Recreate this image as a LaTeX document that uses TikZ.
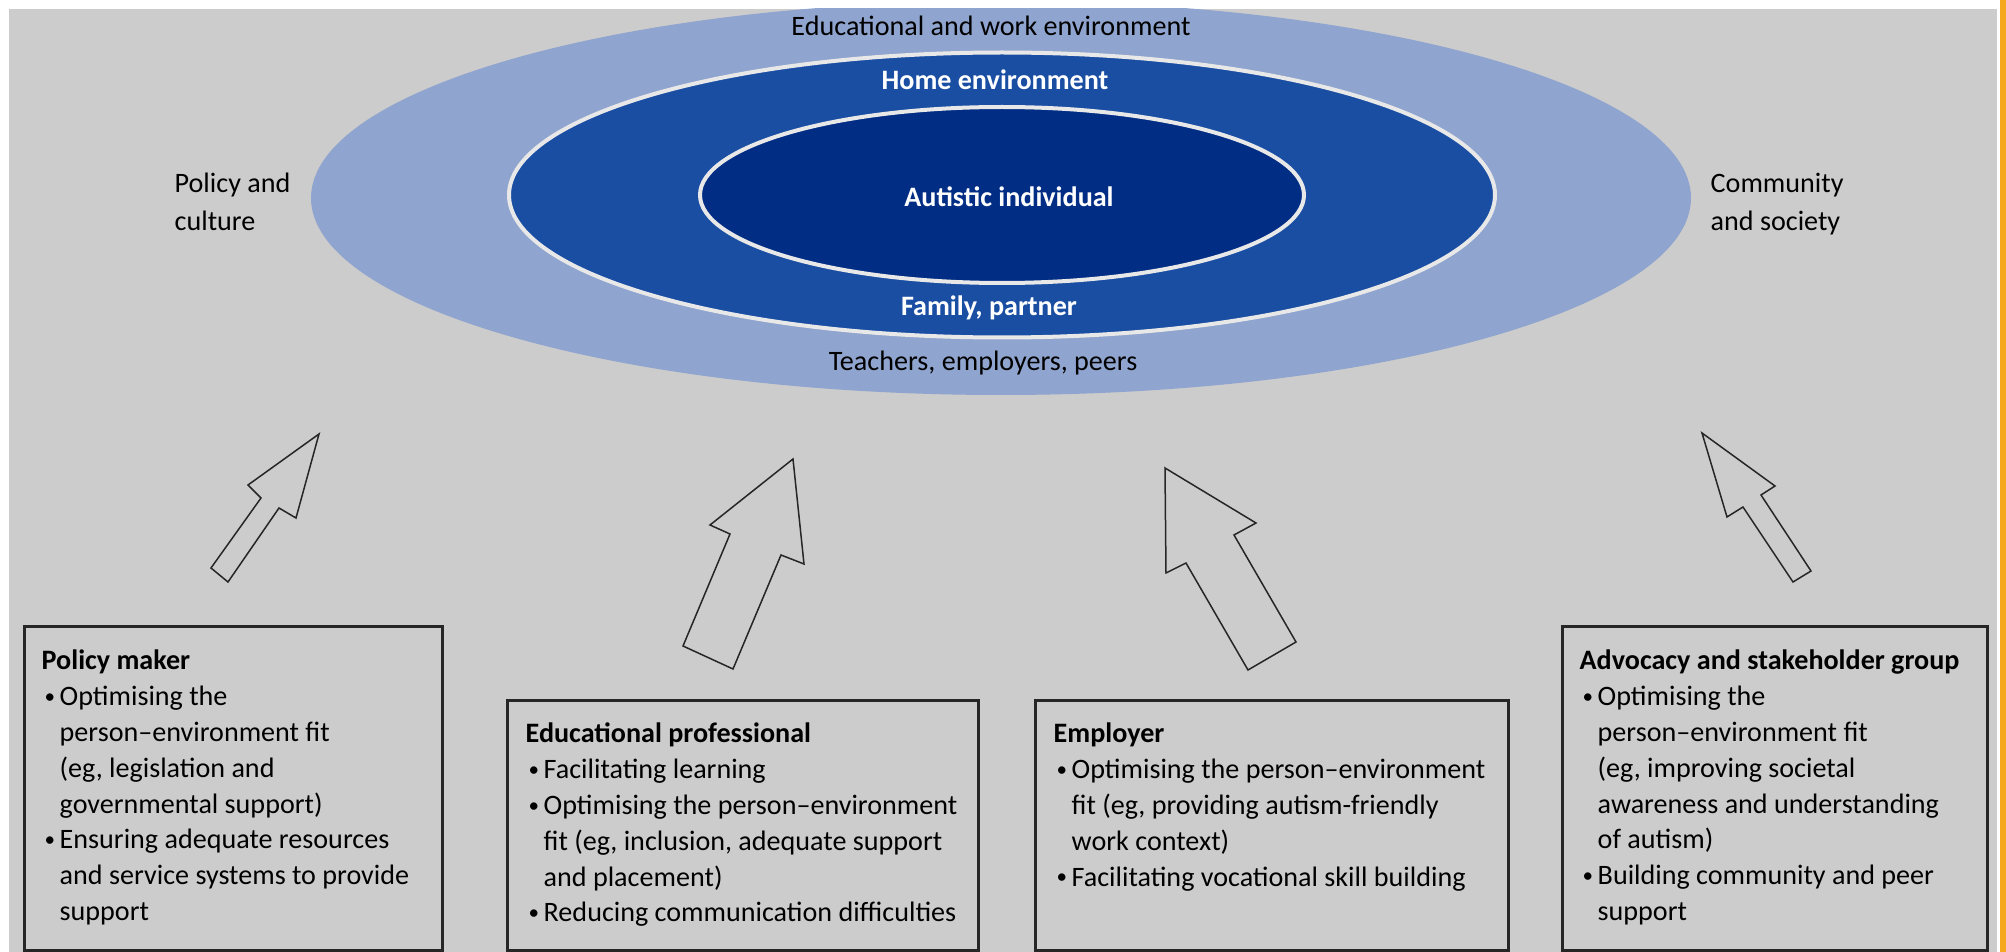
\documentclass[tikz,border=0pt]{standalone}
\usepackage{fontspec}
\setmainfont{Carlito}
\usetikzlibrary{shapes.geometric}
\definecolor{bggrey}{RGB}{204,204,204}
\definecolor{outerblue}{RGB}{143,164,206}
\definecolor{midblue}{RGB}{26,78,163}
\definecolor{innerblue}{RGB}{2,45,133}
\definecolor{ringline}{RGB}{232,232,232}
\definecolor{orangeedge}{RGB}{245,168,30}
\newcommand\bul{\makebox[1.8mm][l]{\hspace{0.3mm}\raisebox{0.6pt}{\fontsize{6pt}{6pt}\selectfont\textbullet}}}
\newcommand\ind{\hspace*{1.8mm}}
\newcommand\fl{\rule{0pt}{2.5mm}}
\begin{document}
\begin{tikzpicture}[x=0.1mm,y=-0.1mm,
  txt/.style={inner sep=0pt, font=\fontsize{8pt}{10.2pt}\selectfont},
  boxtxt/.style={txt, align=left, anchor=north west},
  sidetxt/.style={inner sep=0pt, align=left, anchor=north west, font=\fontsize{8pt}{10.8pt}\selectfont},
  panel/.style={draw=black!85, line width=0.28mm, inner sep=0pt, anchor=north west},
  blockarrow/.style={draw=black!85, fill=bggrey, line width=0.15mm, line join=miter},
  ring/.style={ellipse, inner sep=0pt, draw=ringline, line width=0.4mm},
  whitebold/.style={inner sep=0pt, text=white, font=\fontsize{8pt}{10.2pt}\selectfont\bfseries, anchor=base},
  blacklab/.style={txt, anchor=base},
]
\useasboundingbox (0,0) rectangle (2006,952);
\fill[white] (0,0) rectangle (2006,952);
\fill[bggrey] (9,9) rectangle (1997,952);
\fill[orangeedge] (2000,0) rectangle (2006,952);

% nested environments
\begin{scope}
\clip (9,9) rectangle (1997,952);
\node[ellipse, fill=outerblue, inner sep=0pt, minimum width=138mm, minimum height=39.4mm] (outer) at (1001,198) {};
\end{scope}
\node[ring, fill=midblue, minimum width=98.6mm, minimum height=28.5mm] (home) at (1002,195) {};
\node[ring, fill=innerblue, minimum width=60.4mm, minimum height=17.6mm] (self) at (1002,195) {};

\node[blacklab] (edu) at (991,36) {Educational and work environment};
\node[whitebold] (homelab) at (995,90) {Home environment};
\node[whitebold] (indiv) at (1009,207) {Autistic individual};
\node[whitebold] (family) at (989,316) {Family, partner};
\node[blacklab] (peers) at (983,371) {Teachers, employers, peers};
\node[sidetxt] (policy) at (174,167) {\fl Policy and\\culture};
\node[sidetxt] (community) at (1710,167) {\fl Community\\and society};

% block arrows
\draw[blockarrow] (211,568) -- (261,498) -- (248,485) -- (319,434) -- (296,518) -- (279,508) -- (228,582) -- cycle;
\draw[blockarrow] (683,646) -- (730,534) -- (710,525) -- (793,459) -- (804,564) -- (781,555) -- (733,669) -- cycle;
\draw[blockarrow] (1248,670) -- (1186,563) -- (1166,573) -- (1165,468) -- (1256,523) -- (1234,535) -- (1296,642) -- cycle;
\draw[blockarrow] (1793,582) -- (1743,507) -- (1727,517) -- (1702,433) -- (1775,486) -- (1761,495) -- (1811,571) -- cycle;

% boxes
\node[panel, minimum width=41.8mm, minimum height=32.4mm] (pm) at (23,625) {};
\node[panel, minimum width=47.1mm, minimum height=25mm] (ep) at (506,699) {};
\node[panel, minimum width=47.3mm, minimum height=25mm] (em) at (1034,699) {};
\node[panel, minimum width=42.5mm, minimum height=32.4mm] (ad) at (1561,625) {};

\node[boxtxt] (pmtext) at (41,644) {\fl\textbf{Policy maker}\\
\bul Optimising the\\
\ind person–environment fit\\
\ind (eg, legislation and\\
\ind governmental support)\\
\bul Ensuring adequate resources\\
\ind and service systems to provide\\
\ind support};

\node[boxtxt] (eptext) at (525,717) {\fl\textbf{Educational professional}\\
\bul Facilitating learning\\
\bul Optimising the person–environment\\
\ind fit (eg, inclusion, adequate support\\
\ind and placement)\\
\bul Reducing communication difficulties};

\node[boxtxt] (emtext) at (1053,717) {\fl\textbf{Employer}\\
\bul Optimising the person–environment\\
\ind fit (eg, providing autism-friendly\\
\ind work context)\\
\bul Facilitating vocational skill building};

\node[boxtxt] (adtext) at (1579,644) {\fl\textbf{Advocacy and stakeholder group}\\
\bul Optimising the\\
\ind person–environment fit\\
\ind (eg, improving societal\\
\ind awareness and understanding\\
\ind of autism)\\
\bul Building community and peer\\
\ind support};
\end{tikzpicture}
\end{document}
